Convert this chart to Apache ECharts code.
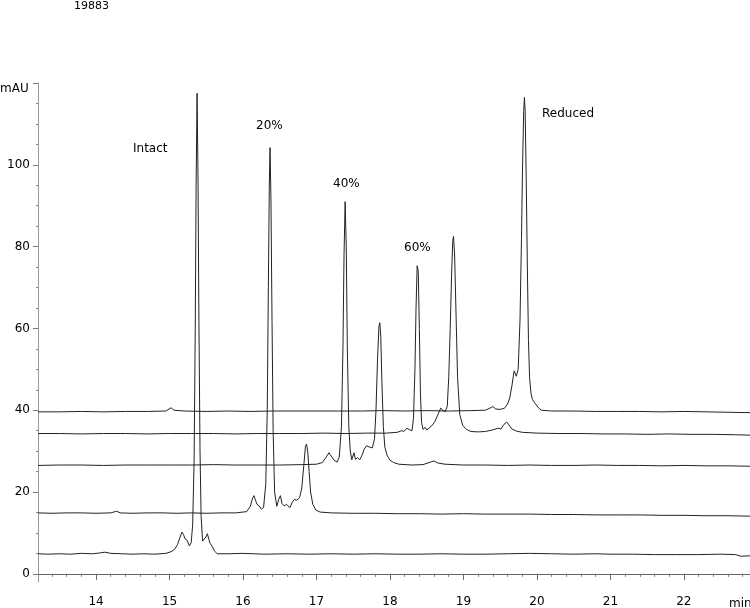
<!DOCTYPE html>
<html>
<head>
<meta charset="utf-8">
<script src="https://cdn.jsdelivr.net/npm/echarts@6/dist/echarts.min.js"></script>
<style>
  html, body { margin: 0; padding: 0; background: #fff; }
  #chart { width: 750px; height: 608px; }
</style>
</head>
<body>
<div id="chart"></div>
<script>
// retention time (min), absorbance (mAU)
const intactTrace = [
  [13.21,4.9],[13.35,4.8],[13.5,4.9],[13.65,4.8],[13.8,5.0],[13.95,4.9],[14.05,5.1],[14.12,5.3],[14.2,5.0],
  [14.35,4.9],[14.5,4.8],[14.65,4.9],[14.8,4.8],[14.95,5.0],[15.02,5.4],[15.07,6.0],[15.11,7.2],[15.14,8.8],
  [15.17,10.2],[15.19,9.6],[15.21,8.6],[15.24,8.2],[15.27,6.8],[15.295,7.6],[15.315,12],[15.335,28],[15.35,60],
  [15.362,95],[15.375,117.5],[15.388,96],[15.40,62],[15.415,30],[15.43,14],[15.45,8.0],[15.47,7.6],[15.495,9.0],
  [15.515,9.8],[15.535,8.5],[15.55,7.5],[15.565,7.8],[15.585,6.6],[15.61,5.6],[15.65,4.9],[15.8,4.9],[16.0,5.0],
  [16.3,4.8],[16.6,4.9],[16.9,4.8],[17.2,4.9],[17.5,4.8],[17.8,4.9],[18.1,4.8],[18.4,4.8],[18.7,4.9],[19.0,4.8],
  [19.3,4.8],[19.6,4.9],[19.9,5.0],[20.2,4.9],[20.5,4.8],[20.8,4.9],[21.0,4.8],[21.3,4.8],[21.6,4.7],[21.9,4.7],
  [22.2,4.7],[22.5,4.8],[22.7,4.7],[22.78,4.3],[22.9,4.4]
];
const pct20Trace = [
  [13.21,14.9],[13.4,14.8],[13.6,14.9],[13.8,14.9],[14.0,14.8],[14.2,14.9],[14.28,15.3],[14.33,14.9],[14.5,14.8],
  [14.7,14.9],[14.9,14.9],[15.1,14.8],[15.3,14.9],[15.5,14.8],[15.7,14.9],[15.9,14.9],[16.05,15.2],[16.10,16.5],
  [16.13,18.5],[16.15,19.1],[16.17,18.0],[16.19,17.0],[16.22,16.6],[16.25,15.8],[16.28,16.2],[16.31,22],[16.33,40],
  [16.345,70],[16.358,95],[16.368,104.2],[16.38,92],[16.395,62],[16.41,35],[16.43,20],[16.46,16.5],[16.49,18.4],
  [16.51,19.1],[16.53,17.2],[16.56,16.6],[16.59,17.0],[16.61,17.0],[16.64,16.2],[16.67,17.5],[16.70,18.2],
  [16.73,18.0],[16.77,18.6],[16.80,21],[16.83,27],[16.85,31.2],[16.865,31.7],[16.88,30],[16.90,25],[16.92,20],
  [16.95,17],[16.99,15.6],[17.05,15.1],[17.2,14.9],[17.5,14.8],[17.8,14.8],[18.1,14.7],[18.4,14.7],[18.7,14.6],
  [19.0,14.7],[19.3,14.6],[19.6,14.6],[19.9,14.6],[20.2,14.5],[20.5,14.5],[20.8,14.4],[21.1,14.4],[21.4,14.4],
  [21.7,14.3],[22.0,14.3],[22.3,14.2],[22.6,14.2],[22.9,14.1]
];
const pct40Trace = [
  [13.21,26.5],[13.5,26.6],[13.8,26.6],[14.1,26.5],[14.4,26.6],[14.7,26.6],[15.0,26.6],[15.3,26.6],[15.6,26.7],
  [15.9,26.6],[16.2,26.6],[16.5,26.6],[16.8,26.7],[17.0,26.8],[17.08,27.2],[17.13,28.5],[17.17,29.6],[17.20,28.8],
  [17.24,27.8],[17.28,27.3],[17.31,28.5],[17.34,36],[17.36,55],[17.375,78],[17.39,91],[17.405,80],[17.42,55],
  [17.44,36],[17.46,30],[17.48,27.9],[17.51,29.6],[17.53,28.0],[17.56,28.4],[17.59,27.9],[17.62,29.0],[17.65,30.5],
  [17.68,31.3],[17.72,31.0],[17.76,30.8],[17.79,33],[17.81,40],[17.83,52],[17.85,60.5],[17.862,61.4],[17.875,58],
  [17.89,47],[17.91,36],[17.93,31],[17.96,29],[18.0,27.8],[18.05,27.2],[18.12,26.8],[18.3,26.6],[18.45,26.7],
  [18.55,27.3],[18.60,27.6],[18.65,27.1],[18.75,26.8],[19.0,26.6],[19.3,26.6],[19.6,26.5],[19.9,26.6],[20.2,26.5],
  [20.5,26.5],[20.8,26.6],[21.1,26.5],[21.4,26.5],[21.7,26.4],[22.0,26.5],[22.3,26.4],[22.6,26.4],[22.9,26.3]
];
const pct60Trace = [
  [13.21,34.3],[13.5,34.3],[13.8,34.2],[14.1,34.3],[14.4,34.3],[14.7,34.2],[15.0,34.3],[15.3,34.3],[15.6,34.3],
  [15.9,34.2],[16.2,34.3],[16.5,34.3],[16.8,34.3],[17.1,34.4],[17.4,34.3],[17.7,34.4],[17.95,34.4],[18.1,34.6],
  [18.16,35.0],[18.19,34.8],[18.23,35.6],[18.27,35.2],[18.30,35.0],[18.32,38],[18.34,50],[18.355,65],[18.37,75.3],
  [18.385,74],[18.40,60],[18.415,44],[18.43,37],[18.45,35.3],[18.48,35.8],[18.50,35.2],[18.53,35.6],[18.57,36.2],
  [18.61,37.2],[18.65,38.8],[18.69,40.5],[18.72,40.0],[18.75,39.6],[18.78,41],[18.80,48],[18.82,60],[18.84,74],
  [18.855,81.5],[18.865,82.5],[18.88,78],[18.90,63],[18.92,48],[18.95,39],[18.99,36.3],[19.04,35.3],[19.1,34.8],
  [19.2,34.7],[19.3,34.8],[19.4,35.2],[19.47,35.6],[19.51,35.4],[19.55,36.5],[19.59,37.1],[19.62,36.4],[19.66,35.4],
  [19.72,34.9],[19.8,34.6],[20.0,34.4],[20.3,34.3],[20.6,34.3],[20.9,34.2],[21.2,34.2],[21.5,34.1],[21.8,34.2],
  [22.1,34.1],[22.4,34.1],[22.7,34.0],[22.9,33.9]
];
const reducedTrace = [
  [13.21,39.6],[13.5,39.6],[13.8,39.7],[14.1,39.6],[14.4,39.7],[14.7,39.7],[14.95,39.8],[15.02,40.6],[15.06,40.0],
  [15.2,39.8],[15.5,39.7],[15.8,39.8],[16.1,39.7],[16.4,39.8],[16.7,39.8],[17.0,39.8],[17.3,39.8],[17.6,39.8],
  [17.9,39.9],[18.2,39.8],[18.5,39.9],[18.8,39.8],[19.1,39.9],[19.3,40.0],[19.37,40.6],[19.40,40.9],[19.44,40.3],
  [19.50,40.2],[19.56,40.5],[19.60,41.5],[19.63,43],[19.66,46],[19.69,49.6],[19.72,48.3],[19.745,50],[19.77,62],
  [19.79,82],[19.805,100],[19.82,113],[19.83,116.5],[19.84,113],[19.855,96],[19.87,75],[19.885,57],[19.90,48],
  [19.92,44],[19.94,42.6],[19.97,41.8],[19.99,41.7],[20.02,40.6],[20.06,40.0],[20.2,39.8],[20.5,39.8],[20.8,39.7],
  [21.1,39.7],[21.4,39.7],[21.7,39.6],[22.0,39.7],[22.3,39.6],[22.6,39.5],[22.9,39.4]
];

const xTicks = [14, 15, 16, 17, 18, 19, 20, 21, 22];
const yTicks = [0, 20, 40, 60, 80, 100, 120];
const yLabels = [0, 20, 40, 60, 80, 100];

// minor ticks: every 0.2 min on x, every 5 mAU on y
const xMinor = [];
for (let i = 67; i <= 114; i++) if (i % 5) xMinor.push(i / 5);
const yMinor = [];
for (let v = 5; v < 120; v += 5) if (v % 20) yMinor.push(v);

const FONT = "DejaVu Sans";
const axisGrey = "#9a9a9a";

const myChart = echarts.init(document.getElementById("chart"));
const traces = [intactTrace, pct20Trace, pct40Trace, pct60Trace, reducedTrace];

const txt = (left, top, text, size) => ({
  type: "text", left: left, top: top,
  style: { text: text, fill: "#000", font: (size || 12) + "px '" + FONT + "'" }
});

myChart.setOption({
  animation: false,
  grid: { left: 38, right: 0, top: 83, bottom: 25 },
  xAxis: [
    {
      type: "value", min: 13.21, max: 22.9,
      axisLine: { lineStyle: { color: "#666", width: 1 } },
      axisTick: { customValues: xTicks, length: 6, lineStyle: { color: "#666" } },
      axisLabel: { customValues: xTicks, color: "#000", fontFamily: FONT, fontSize: 12, margin: 14 },
      splitLine: { show: false }
    },
    {
      type: "value", min: 13.21, max: 22.9, position: "bottom",
      axisLine: { show: false },
      axisTick: { customValues: xMinor, length: 3, lineStyle: { color: "#777" } },
      axisLabel: { show: false },
      splitLine: { show: false }
    }
  ],
  yAxis: [
    {
      type: "value", min: -2, max: 120,
      axisLine: { show: true, lineStyle: { color: axisGrey, width: 1 } },
      axisTick: { show: true, customValues: yTicks, length: 5, lineStyle: { color: "#777" } },
      axisLabel: { customValues: yLabels, color: "#000", fontFamily: FONT, fontSize: 12, margin: 8 },
      splitLine: { show: false }
    },
    {
      type: "value", min: -2, max: 120, position: "left",
      axisLine: { show: false },
      axisTick: { show: true, customValues: yMinor, length: 2, lineStyle: { color: "#888" } },
      axisLabel: { show: false },
      splitLine: { show: false }
    }
  ],
  series: traces.map((d) => ({
    type: "line",
    data: d,
    xAxisIndex: 0,
    yAxisIndex: 0,
    showSymbol: false,
    symbol: "none",
    smooth: false,
    lineStyle: { color: "#222", width: 1 }
  })),
  graphic: [
    txt(74, 1, "19883", 11),
    txt(0, 83, "mAU"),
    txt(729, 598, "min"),
    txt(133, 143, "Intact"),
    txt(256, 120, "20%"),
    txt(333, 178, "40%"),
    txt(404, 242, "60%"),
    txt(542, 108, "Reduced")
  ]
});
</script>
</body>
</html>
